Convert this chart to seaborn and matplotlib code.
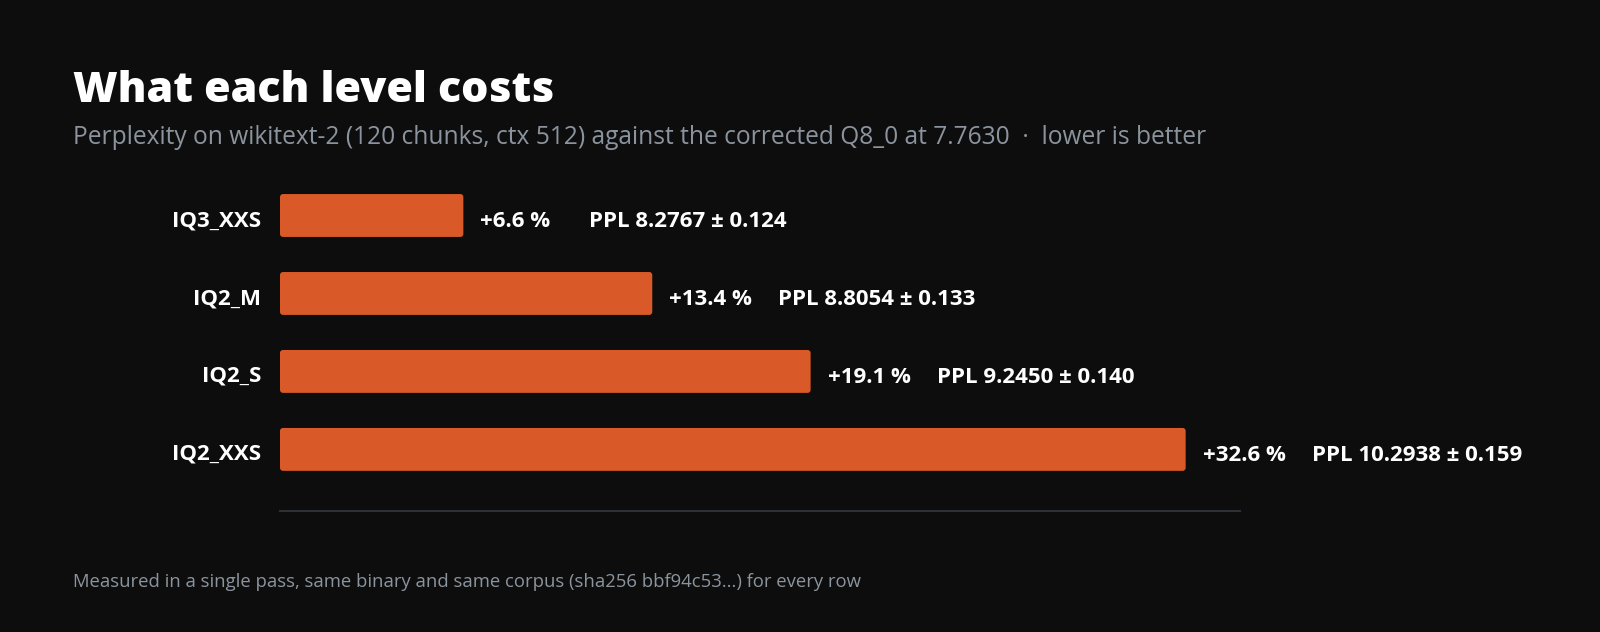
import matplotlib
matplotlib.use("Agg")
import matplotlib.pyplot as plt
from matplotlib.patches import FancyBboxPatch
from matplotlib.transforms import ScaledTranslation
import seaborn as sns
import pandas as pd

levels = ["IQ3_XXS", "IQ2_M", "IQ2_S", "IQ2_XXS"]
pct_increase = [6.6, 13.4, 19.1, 32.6]
ppl = [8.2767, 8.8054, 9.2450, 10.2938]
ppl_err = [0.124, 0.133, 0.140, 0.159]

title = "What each level costs"
subtitle = "Perplexity on wikitext-2 (120 chunks, ctx 512) against the corrected Q8_0 at 7.7630  \u00b7  lower is better"
footer = "Measured in a single pass, same binary and same corpus (sha256 bbf94c53...) for every row"

BG = "#0d0d0d"
BAR = "#d95a28"
GRAY = "#8b949e"
LINE = "#2d3136"
FAM = ["Open Sans", "DejaVu Sans"]

df = pd.DataFrame({"level": levels, "pct": pct_increase})

sns.set_theme(style="dark")
plt.rcParams["font.family"] = FAM

W, H = 1600, 632
fig = plt.figure(figsize=(W / 100, H / 100), dpi=100, facecolor=BG)
ax_left, ax_right = 280, 1240
ax_top, ax_bot = 176.5, 511
ax = fig.add_axes([ax_left / W, 1 - ax_bot / H, (ax_right - ax_left) / W, (ax_bot - ax_top) / H])
ax.set_facecolor(BG)

sns.barplot(data=df, x="pct", y="level", orient="h", color=BAR, width=0.55,
            saturation=1, ax=ax)

xmax = max(pct_increase) * 1.06
ax.set_xlim(0, xmax)
ax.set_ylim(3.5 + 0.29, -0.5)

# rounded corners
px_per_x = (ax_right - ax_left) / xmax
px_per_y = (ax_bot - ax_top) / 4.29
r_px = 3.0
for p in list(ax.patches):
    x, y, w, h = p.get_x(), p.get_y(), p.get_width(), p.get_height()
    p.set_visible(False)
    fb = FancyBboxPatch((x, y), w, h,
                        boxstyle=f"round,pad=0,rounding_size={r_px / px_per_x}",
                        mutation_aspect=(px_per_x / px_per_y),
                        facecolor=BAR, edgecolor="none", zorder=3)
    ax.add_patch(fb)

VAL_FS = 16
for i, (pc, v, e) in enumerate(zip(pct_increase, ppl, ppl_err)):
    ax.annotate(f"+{pc:.1f} %", xy=(pc, i), xytext=(17 * 0.72, -8.4), textcoords="offset points",
                ha="left", va="baseline", color="white", fontsize=VAL_FS, fontweight="bold")
    ax.annotate(f"PPL {v:.4f} \u00b1 {e:.3f}", xy=(pc, i), xytext=(126 * 0.72, -8.4),
                textcoords="offset points", ha="left", va="baseline", color="white",
                fontsize=VAL_FS, fontweight="bold")

ax.set_xlabel("")
ax.set_ylabel("")
ax.set_xticks([])
ax.tick_params(axis="y", length=0, pad=19 * 0.72, labelsize=16, labelcolor="white")
shift = ScaledTranslation(0, -7.6 / 72, fig.dpi_scale_trans)
for lab in ax.get_yticklabels():
    lab.set_fontweight("bold")
    lab.set_verticalalignment("baseline")
    lab.set_transform(lab.get_transform() + shift)
for s in ["top", "right", "left"]:
    ax.spines[s].set_visible(False)
ax.spines["bottom"].set_visible(True)
ax.spines["bottom"].set_color(LINE)
ax.spines["bottom"].set_linewidth(1.5)
ax.grid(False)

fig.text(73 / W, 1 - 102 / H, title, ha="left", va="baseline", color="white",
         fontsize=31, fontweight="heavy")
fig.text(73 / W, 1 - 144 / H, subtitle, ha="left", va="baseline", color=GRAY,
         fontsize=17.65)
fig.text(73 / W, 1 - 587 / H, footer, ha="left", va="baseline", color=GRAY,
         fontsize=13.3)

fig.savefig("out.png", dpi=100, facecolor=BG)
